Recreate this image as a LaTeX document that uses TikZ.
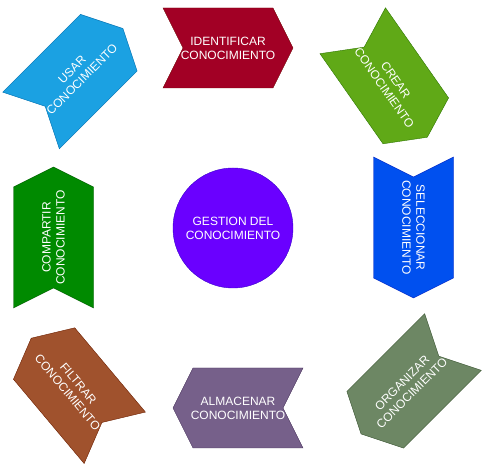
\documentclass[tikz,border=0pt]{standalone}
\usepackage{fontspec}
\setmainfont{Liberation Sans}
\usepackage{tikz}
\usetikzlibrary{positioning}
\usetikzlibrary{calc,backgrounds}
\definecolor{crimson}{HTML}{A20025}
\definecolor{crimsonline}{HTML}{6F0000}
\definecolor{lime}{HTML}{60A917}
\definecolor{limeline}{HTML}{2D7600}
\definecolor{cobalt}{HTML}{0050EF}
\definecolor{cobaltline}{HTML}{001DBC}
\definecolor{olive}{HTML}{6D8764}
\definecolor{oliveline}{HTML}{3A5431}
\definecolor{mauve}{HTML}{76608A}
\definecolor{mauveline}{HTML}{432D57}
\definecolor{sienna}{HTML}{A0522D}
\definecolor{siennaline}{HTML}{6D1F00}
\definecolor{leaf}{HTML}{008A00}
\definecolor{leafline}{HTML}{005700}
\definecolor{cyan}{HTML}{1BA1E2}
\definecolor{cyanline}{HTML}{006EAF}
\definecolor{violet}{HTML}{6A00FF}
\definecolor{violetline}{HTML}{3700CC}
\tikzset{
  stepbox/.style={minimum width=130pt, minimum height=80pt, inner sep=0pt, outer sep=0pt,
    text=white, align=center, font=\fontsize{12}{14}\selectfont},
  longstep/.style={stepbox, minimum width=141pt},
}

\begin{document}
\begin{tikzpicture}[x=1pt,y=1pt]
\useasboundingbox (0,0) rectangle (482,465);
\node[circle, fill=violet, draw=violetline, minimum size=120pt, inner sep=0pt,
  text=white, align=center, font=\fontsize{12}{14}\selectfont] (gestion) at (233,237) {GESTION DEL\\CONOCIMIENTO};
\node[stepbox] (identificar) at (228,417) {IDENTIFICAR\\CONOCIMIENTO};
\node[stepbox, rotate=-55] (crear) at (390,381) {CREAR\\CONOCIMIENTO};
\node[longstep, rotate=-90] (seleccionar) at (413.5,237.5) {SELECCIONAR\\CONOCIMIENTO};
\node[stepbox, rotate=45] (organizar) at (407,77) {ORGANIZAR\\CONOCIMIENTO};
\node[stepbox] (almacenar) at (238,57) {ALMACENAR\\CONOCIMIENTO};
\node[stepbox, rotate=-50] (filtrar) at (73,77) {FILTRAR\\CONOCIMIENTO};
\node[longstep, rotate=90] (compartir) at (53.5,227.5) {COMPARTIR\\CONOCIMIENTO};
\node[stepbox, rotate=45] (usar) at (77,390.5) {USAR\\CONOCIMIENTO};
% chevrons behind the labels
\begin{scope}[on background layer]
\foreach \n/\f/\d in {identificar/crimson/crimsonline, crear/lime/limeline,
  seleccionar/cobalt/cobaltline, compartir/leaf/leafline, usar/cyan/cyanline}
  \filldraw[fill=\f, draw=\d] (\n.north west) -- ($(\n.north east)!20pt!(\n.north west)$)
    -- (\n.east) -- ($(\n.south east)!20pt!(\n.south west)$) -- (\n.south west)
    -- ($(\n.west)!20pt!(\n.east)$) -- cycle;
\foreach \n/\f/\d in {organizar/olive/oliveline, almacenar/mauve/mauveline,
  filtrar/sienna/siennaline}
  \filldraw[fill=\f, draw=\d] (\n.north east) -- ($(\n.north west)!20pt!(\n.north east)$)
    -- (\n.west) -- ($(\n.south west)!20pt!(\n.south east)$) -- (\n.south east)
    -- ($(\n.east)!20pt!(\n.west)$) -- cycle;
\end{scope}
\end{tikzpicture}
\end{document}
